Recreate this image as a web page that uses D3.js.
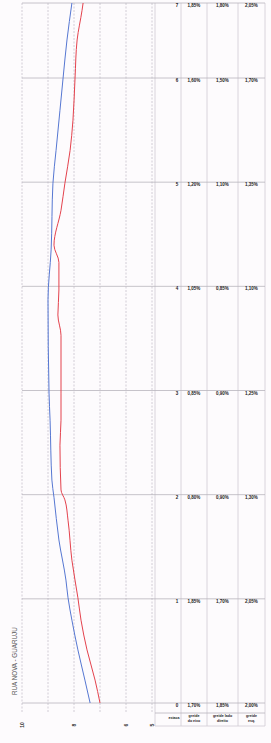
<!DOCTYPE html>
<html>
<head>
<meta charset="utf-8">
<script src="https://cdn.jsdelivr.net/npm/d3@7"></script>
<style>
  body { margin: 0; background: #fdfbfd; }
  svg { display: block; font-family: "Liberation Sans", Arial, sans-serif; }
</style>
</head>
<body>
<div id="chart"></div>
<script>
// distances (m) and grade values
const stations = [0, 20, 40, 60, 80, 100, 120, 134.4];
const stationLabels = ['0', '1', '2', '3', '4', '5', '6', '7'];
const valueTicks = [10, 9, 8, 7, 6, 5];
const valueTickLabels = ['10', '', '8', '', '6', '5'];

const redDist = [0, 4.4, 10.2, 15.9, 20.2, 27.4, 35.1, 39.0, 40.9, 49.5, 54.3, 59.5, 70.6, 74.5, 79.3, 84.6, 87.9, 94.6, 99.8, 106.1, 111.9, 120.0, 127.3, 133.0, 134.4];
const redVal  = [7.00, 7.19, 7.50, 7.73, 7.85, 8.08, 8.23, 8.35, 8.50, 8.54, 8.50, 8.50, 8.50, 8.62, 8.58, 8.58, 8.77, 8.50, 8.35, 8.15, 8.04, 7.96, 7.88, 7.69, 7.65];
const blueDist = [0, 4.4, 10.2, 15.9, 20.2, 23.6, 31.3, 39.5, 42.8, 54.3, 59.5, 77.4, 87.0, 99.8, 106.1, 113.8, 120.0, 127.3, 134.4];
const blueVal  = [7.38, 7.58, 7.85, 8.08, 8.23, 8.31, 8.58, 8.77, 8.85, 8.92, 8.96, 9.00, 8.88, 8.81, 8.69, 8.54, 8.42, 8.27, 8.08];

// table columns (one row per station)
const colA = ['1,70%', '1,85%', '0,80%', '0,85%', '1,05%', '1,20%', '1,60%', '1,85%'];
const colB = ['1,85%', '1,70%', '0,90%', '0,90%', '0,85%', '1,10%', '1,50%', '1,80%'];
const colC = ['2,00%', '2,05%', '1,30%', '1,25%', '1,10%', '1,35%', '1,70%', '2,05%'];
const headers = [['estaca'], ['greide', 'do eixo'], ['greide lado', 'direito'], ['greide', 'esq.']];
const title = 'RUA NOVA - GUARUJU';

const width = 271, height = 743;
const svg = d3.select('#chart').append('svg')
  .attr('width', width)
  .attr('height', height);

const x = d3.scaleLinear().domain([10, 5]).range([22, 152]);
const y = d3.scaleLinear().domain([0, 134.4]).range([703, 3]);
const cols = [155, 181, 207, 238, 265];

// vertical value grid
svg.append('g').selectAll('line')
  .data(valueTicks)
  .enter().append('line')
    .attr('x1', d => x(d)).attr('x2', d => x(d))
    .attr('y1', 3).attr('y2', 712)
    .attr('stroke', '#c6c3cc')
    .attr('stroke-width', 0.8)
    .attr('stroke-dasharray', '2,1.5');

// table column lines
svg.append('g').selectAll('line')
  .data(cols)
  .enter().append('line')
    .attr('x1', d => d).attr('x2', d => d)
    .attr('y1', 3).attr('y2', 726)
    .attr('stroke', '#cfccd3')
    .attr('stroke-width', 0.8);

// station lines across plot and table
svg.append('g').selectAll('line')
  .data(stations)
  .enter().append('line')
    .attr('x1', x(10)).attr('x2', cols[4])
    .attr('y1', d => y(d)).attr('y2', d => y(d))
    .attr('stroke', '#b8b5bd')
    .attr('stroke-width', 0.8);

svg.append('line')
  .attr('x1', cols[0]).attr('x2', cols[4])
  .attr('y1', 713).attr('y2', 713)
  .attr('stroke', '#b8b5bd').attr('stroke-width', 0.8);
svg.append('line')
  .attr('x1', cols[0]).attr('x2', cols[4])
  .attr('y1', 726).attr('y2', 726)
  .attr('stroke', '#cfccd3').attr('stroke-width', 0.8);

// value axis labels (rotated with the sheet)
svg.append('g').selectAll('text')
  .data(valueTicks)
  .enter().append('text')
    .attr('transform', (d, i) => 'translate(' + (x(d) + 1.5) + ',725) rotate(-90)')
    .attr('text-anchor', 'middle')
    .attr('font-size', 5)
    .attr('font-weight', 'bold')
    .attr('fill', '#333')
    .text((d, i) => valueTickLabels[i]);

// title
svg.append('text')
  .attr('transform', 'translate(17,695) rotate(-90)')
  .attr('font-size', 6.3)
  .attr('fill', '#555')
  .text(title);

const line = d3.line()
  .x(d => x(d[1]))
  .y(d => y(d[0]))
  .curve(d3.curveMonotoneY);

const series = [
  { dist: blueDist, val: blueVal, color: '#5677d2' },
  { dist: redDist, val: redVal, color: '#e4424d' }
];
series.forEach(s => {
  svg.append('path')
    .datum(s.dist.map((d, i) => [d, s.val[i]]))
    .attr('d', line)
    .attr('fill', 'none')
    .attr('stroke', s.color)
    .attr('stroke-width', 1);
});

// table text
const rowY = d => y(d) + 4;
const tbl = svg.append('g')
  .attr('font-size', 4.5)
  .attr('font-weight', 'bold')
  .attr('fill', '#222')
  .attr('text-anchor', 'middle');

tbl.selectAll('.st')
  .data(stations)
  .enter().append('text')
    .attr('x', cols[1] - 4)
    .attr('y', d => rowY(d))
    .text((d, i) => stationLabels[i]);

[colA, colB, colC].forEach((c, k) => {
  tbl.selectAll('.c' + k)
    .data(stations)
    .enter().append('text')
      .attr('x', (cols[k + 1] + cols[k + 2]) / 2)
      .attr('y', d => rowY(d))
      .text((d, i) => c[i]);
});

headers.forEach((h, k) => {
  h.forEach((t, j) => {
    tbl.append('text')
      .attr('x', (cols[k] + cols[k + 1]) / 2 + (k === 0 ? 6 : 0))
      .attr('y', 719 + j * 5 - (h.length - 1) * 2.5)
      .attr('font-size', 3.6)
      .text(t);
  });
});
</script>
</body>
</html>
